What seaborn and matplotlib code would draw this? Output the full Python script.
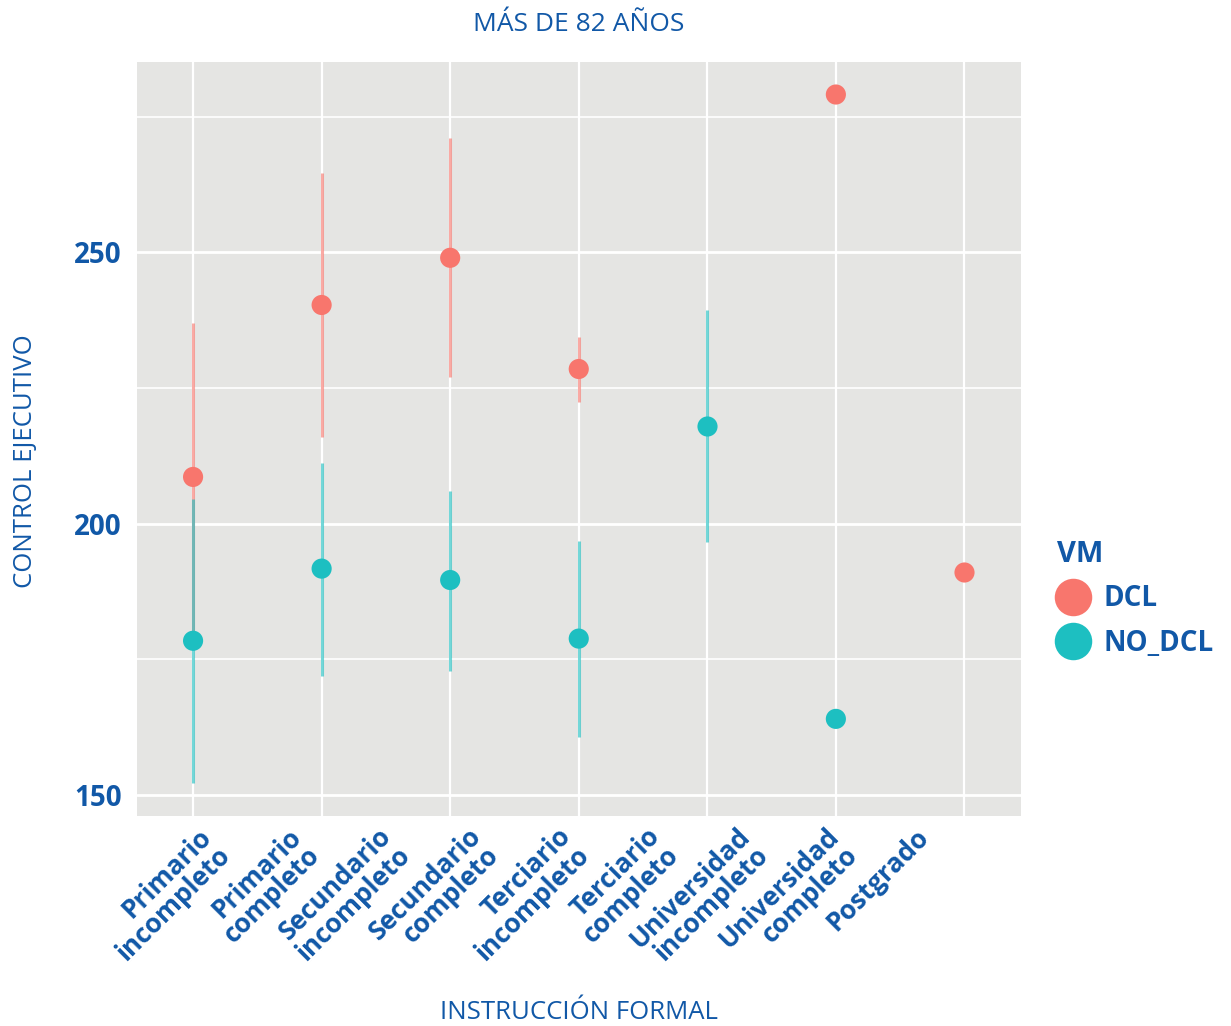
import numpy as np
import pandas as pd
import matplotlib
matplotlib.use('Agg')
import matplotlib.pyplot as plt
from matplotlib.lines import Line2D
import seaborn as sns

# Data (mean and interval per education level)
categories = ['Primario incompleto', 'Primario completo', 'Secundario completo',
              'Terciario incompleto', 'Universidad incompleto', 'Universidad completo',
              'Postgrado']
nan = np.nan
dcl_mean = [208.6, 240.3, 249.0, 228.5, nan, 279.1, 191.1]
dcl_lo = [180.2, 216.0, 227.1, 222.5, nan, nan, nan]
dcl_hi = [237.0, 264.7, 271.1, 234.4, nan, nan, nan]
no_dcl_mean = [178.4, 191.7, 189.6, 178.8, 218.0, 164.0, nan]
no_dcl_lo = [152.2, 171.9, 172.9, 160.7, 196.6, nan, nan]
no_dcl_hi = [204.6, 211.2, 206.0, 196.8, 239.4, nan, nan]

tick_labels = ['Primario\nincompleto', 'Primario\ncompleto', 'Secundario\nincompleto',
               'Secundario\ncompleto', 'Terciario\nincompleto', 'Terciario\ncompleto',
               'Universidad\nincompleto', 'Universidad\ncompleto', 'Postgrado']

groups = ['DCL', 'NO_DCL']
palette = {'DCL': '#F8766D', 'NO_DCL': '#1DBFC1'}
blue = '#1158A7'

df = pd.DataFrame({
    'nivel': categories * 2,
    'VM': ['DCL'] * len(categories) + ['NO_DCL'] * len(categories),
    'valor': dcl_mean + no_dcl_mean,
    'lo': dcl_lo + no_dcl_lo,
    'hi': dcl_hi + no_dcl_hi,
})

sns.set_theme(style='darkgrid')
plt.rcParams['font.family'] = ['Open Sans', 'DejaVu Sans']

fig = plt.figure(figsize=(12.31, 10.26), dpi=100)
ax = fig.add_axes([0.1113, 0.2047, 0.7181, 0.7349])
ax.set_facecolor('#E5E5E3')

# error bars first, then points on top
pos = {c: i for i, c in enumerate(categories)}
for g in groups:
    sub = df[df['VM'] == g]
    ax.vlines([pos[c] for c in sub['nivel']], sub['lo'], sub['hi'],
              colors=palette[g], linewidth=2.2, alpha=0.62, zorder=2)

sns.stripplot(data=df.dropna(subset=['valor']), x='nivel', y='valor', hue='VM',
              order=categories, hue_order=groups, palette=palette,
              jitter=False, dodge=False, size=14.5, linewidth=0, ax=ax,
              legend=False, zorder=3)

ax.set_xlim(-0.436, 6.44)
ax.set_ylim(146.1, 285.1)

# grid
ax.set_yticks([150, 200, 250])
ax.set_yticks([175, 225, 275], minor=True)
ax.set_xticks(range(len(categories)), minor=True)
ax.set_xticks(np.linspace(0.04, 5.62, len(tick_labels)))
ax.set_xticklabels(tick_labels, rotation=45, ha='right', va='top',
                   rotation_mode='anchor', fontsize=19, fontweight='bold', color=blue,
                   linespacing=0.95, multialignment='right')
ax.grid(False)
ax.grid(which='major', axis='y', color='white', linewidth=2.0)
ax.grid(which='minor', axis='y', color='white', linewidth=1.2)
ax.grid(which='minor', axis='x', color='white', linewidth=1.6)
ax.set_axisbelow(True)
ax.tick_params(axis='both', which='both', length=0)
ax.tick_params(axis='x', pad=5)
ax.tick_params(axis='y', pad=11, labelsize=20, labelcolor=blue)
for t in ax.get_yticklabels():
    t.set_fontweight('bold')
for s in ax.spines.values():
    s.set_visible(False)

ax.set_xlabel('INSTRUCCIÓN FORMAL', fontsize=18.5, color=blue)
ax.set_ylabel('CONTROL EJECUTIVO', fontsize=18.5, color=blue)
ax.yaxis.set_label_coords(-0.112, 0.47)
ax.xaxis.set_label_coords(0.5, -0.244)
ax.set_title('MÁS DE 82 AÑOS', fontsize=19, color=blue, pad=22)

handles = [Line2D([], [], marker='o', linestyle='', markersize=27,
                  markerfacecolor=palette[g], markeredgewidth=0) for g in groups]
leg = fig.legend(handles, groups, title='VM', loc='upper left',
                 bbox_to_anchor=(0.838, 0.498), frameon=False,
                 handletextpad=0.5, labelspacing=0.55, handlelength=1.2,
                 prop={'size': 20, 'weight': 'bold'})
leg.get_title().set_fontsize(21)
leg.get_title().set_fontweight('bold')
leg.get_title().set_color(blue)
leg._legend_box.align = 'left'
for t in leg.get_texts():
    t.set_color(blue)

fig.savefig('out.png', dpi=100)
